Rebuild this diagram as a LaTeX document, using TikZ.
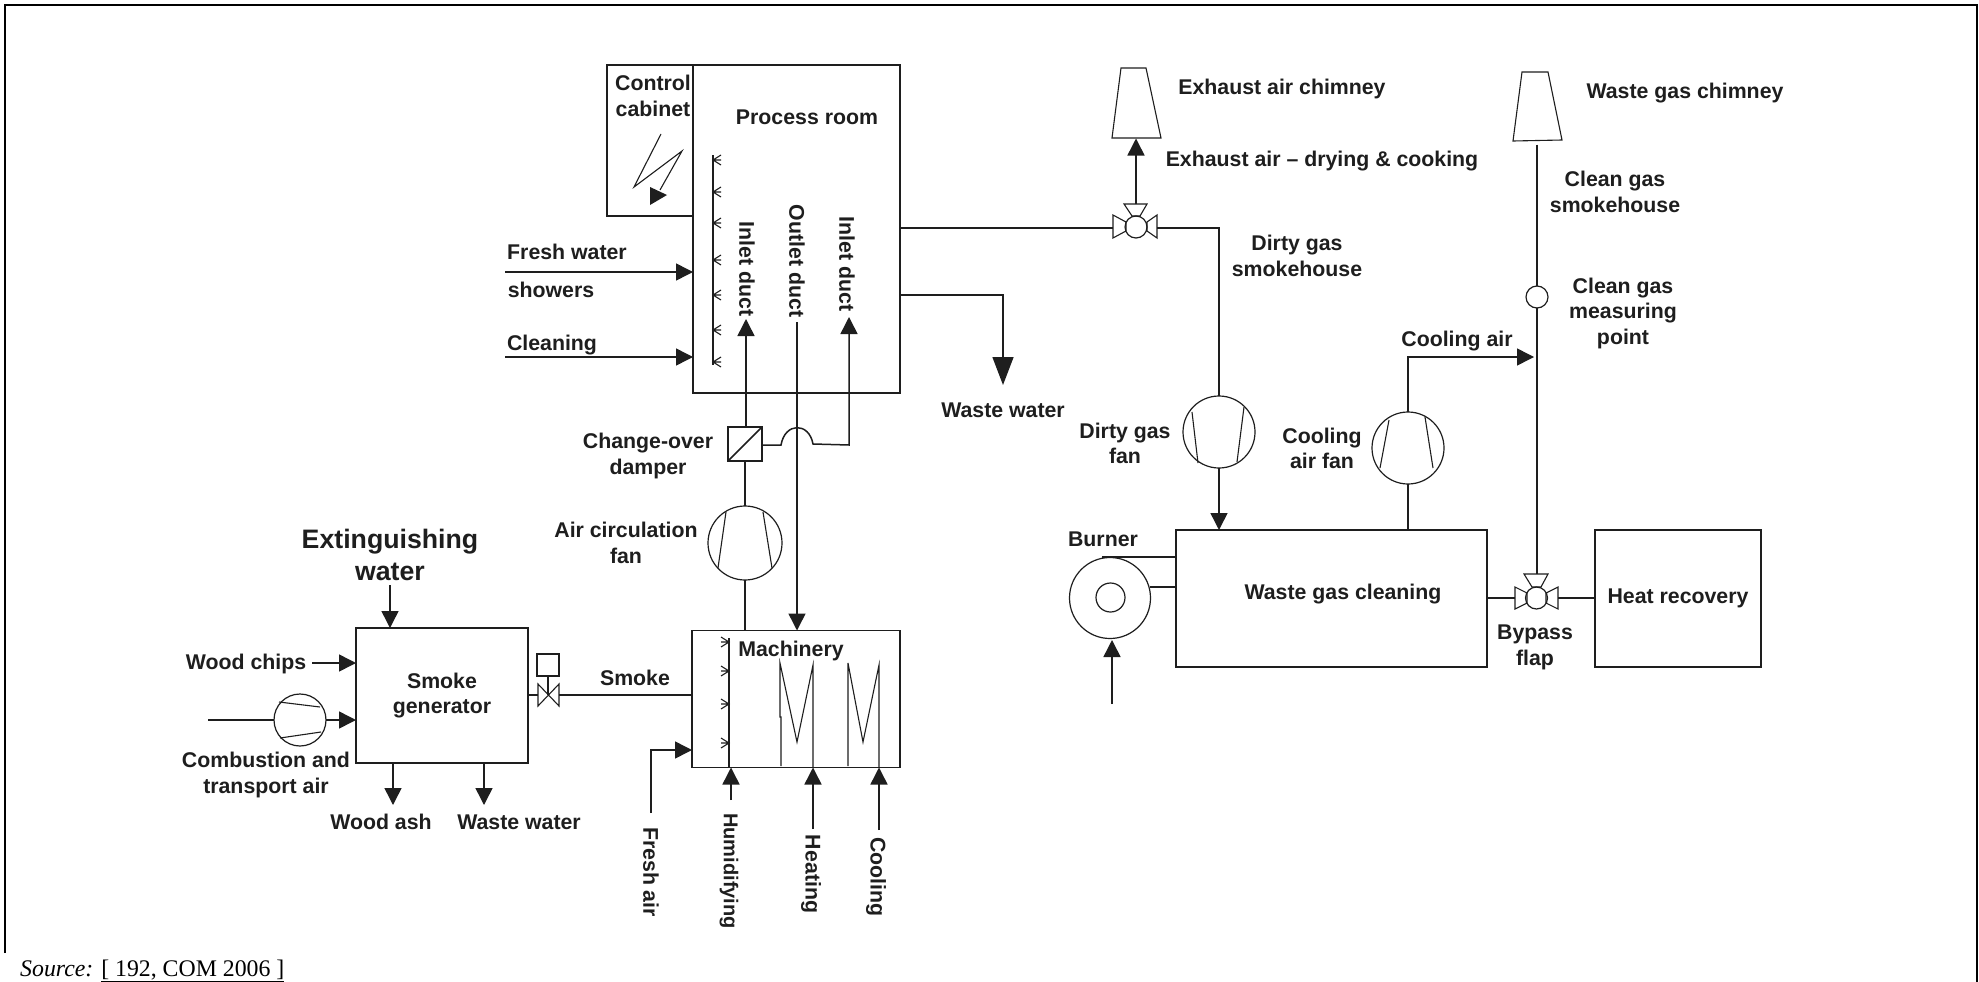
\documentclass[tikz,border=0pt]{standalone}
\usepackage{fontspec}
\setmainfont{Liberation Sans}
\newfontfamily\srcfont{Liberation Serif}
\usetikzlibrary{arrows.meta}
\definecolor{ink}{HTML}{1E1E1E}
\tikzset{
  x=1pt,y=-1pt,
  line/.style={draw=ink,line width=1.5pt},
  thinl/.style={draw=ink,line width=1.1pt},
  flow/.style={line,-{Triangle[width=17pt,length=17pt]}},
  boxn/.style={rectangle,draw=ink,line width=1.5pt,inner sep=0pt,outer sep=0pt,fill=none},
  ringn/.style={circle,draw=ink,line width=1.2pt,inner sep=0pt,outer sep=0pt},
  lab/.style={font=\bfseries\fontsize{21.3}{25.5}\selectfont,text=ink,align=center,inner sep=0pt},
  biglab/.style={font=\bfseries\fontsize{26.7}{32}\selectfont,text=ink,align=center,inner sep=0pt},
  vlab/.style={lab,rotate=-90},
  frameln/.style={draw=black,line width=2.4pt}
}
\begin{document}
\begin{tikzpicture}
\useasboundingbox (0,0) rectangle (1979,982);
\fill[white] (0,0) rectangle (1979,982);
% frame
\draw[frameln] (5,953) -- (5,5) -- (1977,5) -- (1977,982);
% boxes
\node[boxn,minimum width=207pt,minimum height=328pt] (process) at (796.5,229) {};
\node[boxn,minimum width=86pt,minimum height=151pt] (cabinet) at (650,140.5) {};
\node[boxn,minimum width=208pt,minimum height=137pt] (machinery) at (796,699) {};
\node[boxn,minimum width=172pt,minimum height=135pt,lab] (smokegen) at (442,695.5) {Smoke\\generator};
\node[boxn,minimum width=311pt,minimum height=137pt] (cleaning) at (1331.5,598.5) {};
\node[boxn,minimum width=166pt,minimum height=137pt,lab] (heat) at (1678,598.5) {Heat recovery};
\node[boxn,minimum width=34pt,minimum height=34pt] (damper) at (745,444) {};
\draw[line] (damper.south west) -- (damper.north east);
\draw[line width=2.5pt,draw=ink] (damper.south west) -- (damper.south east);
% labels
\node[lab] (tcab) at (653,96) {Control\\cabinet};
\node[lab] (tproc) at (807,117) {Process room};
\node[lab] (tfw) at (567,252) {Fresh water};
\node[lab] (tshow) at (551,290) {showers};
\node[lab] (tclean) at (552,345) {Cleaning};
\node[vlab] (tin1) at (747,269) {Inlet duct};
\node[vlab] (tout) at (797,261) {Outlet duct};
\node[vlab] (tin2) at (847,264) {Inlet duct};
\node[lab] (tchange) at (648,456) {Change-over\\damper};
\node[lab] (tacf) at (626,543) {Air circulation\\fan};
\node[biglab] (text) at (390,555) {Extinguishing\\water};
\node[lab] (tchips) at (246,664) {Wood chips};
\node[lab] (tcomb) at (266,775) {Combustion and\\transport air};
\node[lab] (tash) at (381,822) {Wood ash};
\node[lab] (tww1) at (519,822) {Waste water};
\node[lab] (tsmoke) at (635,678) {Smoke};
\node[lab] (tmach) at (791,651) {Machinery};
\node[vlab] (tfresh) at (651,872) {Fresh air};
\node[vlab,font=\bfseries\fontsize{20}{25}\selectfont] (thum) at (729,871) {Humidifying};
\node[vlab] (theat) at (811,874) {Heating};
\node[vlab] (tcool) at (876,877) {Cooling};
\node[lab] (tww2) at (1003,410) {Waste water};
\node[lab] (texc) at (1282,89) {Exhaust air chimney};
\node[lab] (texd) at (1322,161) {Exhaust air – drying \& cooking};
\node[lab] (tdgs) at (1297,256) {Dirty gas\\smokehouse};
\node[lab] (tdgf) at (1125,443.5) {Dirty gas\\fan};
\node[lab] (tcaf) at (1322,448.5) {Cooling\\air fan};
\node[lab] (tcair) at (1457,341) {Cooling air};
\node[lab] (twgc) at (1685,93) {Waste gas chimney};
\node[lab] (tcgs) at (1615,192) {Clean gas\\smokehouse};
\node[lab] (tcgm) at (1623,313) {Clean gas\\measuring\\point};
\node[lab] (tburn) at (1103,539) {Burner};
\node[lab] (twgcl) at (1343,594) {Waste gas cleaning};
\node[lab] (tby) at (1535,647.5) {Bypass\\flap};
\node[font=\srcfont\fontsize{23.8}{28}\selectfont,anchor=base west,inner sep=0pt,text=black] (tsrc) at (20,976) {\textit{Source:} \underline{[ 192, COM 2006 ]}};
% control cabinet symbol
\draw[thinl] (661,134) -- (634,187) -- (682,151) -- (660,190);
\fill[ink] (650,187) -- (650,205) -- (667,195) -- cycle;
% process-room showers
\coordinate (showT) at (713,155);
\coordinate (showB) at (713,365);
\draw[line] (showT) -- (showB);
\foreach \yy in {160,192,223,260,295,330,362}{
  \draw[thinl] (721,\yy-5) -- (713,\yy) -- (721,\yy+5) (713,\yy) -- (721,\yy);
}
% process-room inputs
\coordinate (fwS) at (505,272);
\coordinate (clS) at (505,357);
\draw[flow] (fwS) -- (process.west |- fwS);
\draw[flow] (clS) -- (process.west |- clS);
% ducts
\coordinate (in1T) at (746,319);
\draw[flow] (damper.north -| in1T) -- (in1T);
\coordinate (outS) at (797,322);
\draw[flow] (outS) -- (outS |- machinery.north);
\coordinate (in2T) at (849,317);
\coordinate (in2B) at (849,445);
\coordinate (hopR) at (813,444);
\coordinate (hopL) at (781,445);
\draw[flow] (damper.east |- hopL) -- (hopL) .. controls (785,422) and (809,422) .. (hopR) -- (in2B) -- (in2T);
% air circulation fan
\node[ringn,minimum size=74pt] (acfan) at (745,543) {};
\draw[thinl] (726,512) -- (718,568) (763,512) -- (772,568);
\draw[line] (damper.south -| acfan) -- (acfan.north);
\draw[line] (acfan.south) -- (acfan.south |- machinery.north);
% machinery
\coordinate (mshowT) at (729,638);
\draw[line] (mshowT) -- (mshowT |- machinery.south);
\foreach \yy in {642,671,704,743}{
  \draw[thinl] (721,\yy-5) -- (729,\yy) -- (721,\yy+5) (729,\yy) -- (721,\yy);
}
\draw[thinl] (781,766) -- (781,717) -- (780,717) -- (780,663) -- (797,742) -- (813,665) -- (813,768);
\draw[thinl] (848,766) -- (848,663) -- (863,742) -- (879,665) -- (879,768);
\coordinate (faS) at (651,813);
\coordinate (faE) at (651,750);
\draw[flow] (faS) -- (faE) -- (machinery.west |- faE);
\coordinate (huS) at (731,800);
\coordinate (heS) at (813,829);
\coordinate (coS) at (879,830);
\draw[flow] (huS) -- (huS |- machinery.south);
\draw[flow] (heS) -- (heS |- machinery.south);
\draw[flow] (coS) -- (coS |- machinery.south);
% smoke generator
\coordinate (exS) at (390,585);
\draw[flow] (exS) -- (exS |- smokegen.north);
\coordinate (wcS) at (312,663);
\draw[flow] (wcS) -- (smokegen.west |- wcS);
\node[ringn,minimum size=52pt] (cfan) at (300,720) {};
\draw[thinl] (279,702) -- (320,707) (280,738) -- (321,732);
\coordinate (caS) at (208,720);
\draw[line] (caS) -- (cfan.west);
\draw[flow] (cfan.east) -- (smokegen.west |- cfan.east);
\coordinate (ashE) at (393,805);
\coordinate (wwE) at (484,805);
\draw[flow] (smokegen.south -| ashE) -- (ashE);
\draw[flow] (smokegen.south -| wwE) -- (wwE);
% smoke valve
\node[boxn,minimum width=22pt,minimum height=22pt] (vbox) at (548,665) {};
\coordinate (vc) at (548,695);
\draw[line] (vbox.south) -- (vc);
\draw[thinl] (538,684) -- (559,706) -- (559,684) -- (538,706) -- cycle;
\draw[line] (smokegen.east |- vc) -- (538,695);
\draw[line] (559,695) -- (machinery.west |- vc);
% process-room outputs
\node[ringn,minimum size=22pt] (v1) at (1136,227) {};
\draw[thinl] (1124,204) -- (1147,204) -- (1140,216) -- (1132,216) -- cycle;
\draw[thinl] (1113,215) -- (1113,238) -- (1126,231) -- (1126,222) -- cycle;
\draw[thinl] (1157,215) -- (1157,238) -- (1147,231) -- (1147,222) -- cycle;
\coordinate (v1W) at (1113,228);
\coordinate (v1E) at (1157,228);
\draw[line] (process.east |- v1W) -- (v1W);
\coordinate (wwS) at (1003,295);
\coordinate (wwT) at (1003,385);
\draw[line,-{Triangle[width=21pt,length=28pt]}] (process.east |- wwS) -- (wwS) -- (wwT);
% exhaust chimney
\node[inner sep=0pt,outer sep=0pt] (ch1) at (1136,138) {};
\draw[thinl] (1112,138) -- (1121,68) -- (1146,68) -- (1161,138) -- cycle;
\coordinate (v1N) at (1136,204);
\draw[flow] (v1N) -- (ch1);
% dirty gas fan
\node[ringn,minimum size=72pt] (dfan) at (1219,432) {};
\draw[thinl] (1192,412) -- (1198,463) (1244,407) -- (1237,462);
\draw[line] (v1E) -- (v1E -| dfan) -- (dfan.north);
\draw[flow] (dfan.south) -- (dfan.south |- cleaning.north);
% cooling fan
\node[ringn,minimum size=72pt] (cofan) at (1408,448) {};
\draw[thinl] (1389,420) -- (1380,468) (1425,417) -- (1433,468);
\draw[line] (cofan.south) -- (cofan.south |- cleaning.north);
\coordinate (caT) at (1534,357);
\draw[flow] (cofan.north) -- (cofan.north |- caT) -- (caT);
% clean gas stack
\node[inner sep=0pt,outer sep=0pt] (ch2) at (1537,144) {};
\draw[thinl] (1513,141) -- (1522,72) -- (1548,72) -- (1562,140) -- cycle;
\node[ringn,minimum size=22pt] (mp) at (1537,297) {};
\draw[line] (ch2) -- (mp.north);
\node[ringn,minimum size=22pt] (v2) at (1536.5,598) {};
\draw[thinl] (1524,574) -- (1548,574) -- (1541,587) -- (1532,587) -- cycle;
\draw[thinl] (1515,587) -- (1515,609) -- (1527,603) -- (1527,593) -- cycle;
\draw[thinl] (1558,587) -- (1558,609) -- (1546,603) -- (1546,593) -- cycle;
\coordinate (v2N) at (1537,574);
\draw[line] (mp.south) -- (v2N);
\coordinate (v2W) at (1515,598);
\coordinate (v2E) at (1558,598);
\draw[line] (cleaning.east |- v2W) -- (v2W);
\draw[line] (v2E) -- (heat.west |- v2E);
% burner
\node[ringn,minimum size=81pt] (burner) at (1110,598) {};
\node[ringn,minimum size=29pt] (burneri) at (1110.5,597.5) {};
\coordinate (bT) at (1102,557);
\coordinate (bB) at (1150,587);
\draw[line] (bT) -- (cleaning.west |- bT);
\draw[line] (bB) -- (cleaning.west |- bB);
\coordinate (bS) at (1112,704);
\coordinate (bE) at (1112,640);
\draw[flow] (bS) -- (bE);
\end{tikzpicture}
\end{document}
